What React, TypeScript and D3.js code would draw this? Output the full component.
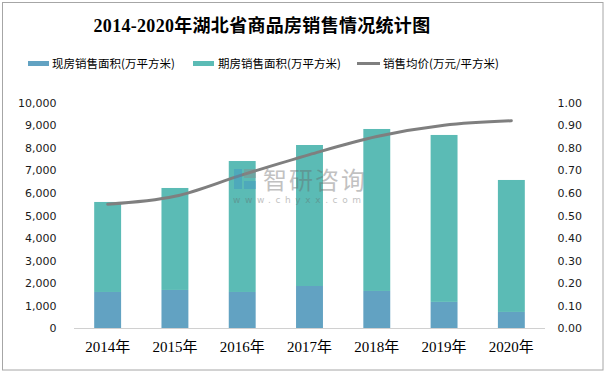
import React from "react";
import * as d3 from "d3";

const categories = ["2014年", "2015年", "2016年", "2017年", "2018年", "2019年", "2020年"];
const existingArea = [1610, 1700, 1610, 1875, 1655, 1170, 725];
const totalArea = [5600, 6220, 7415, 8125, 8835, 8570, 6575];
const futureArea = totalArea.map((t, i) => t - existingArea[i]);
const avgPrice = [0.55, 0.585, 0.68, 0.77, 0.85, 0.9, 0.92];
const leftTicks = [0, 1000, 2000, 3000, 4000, 5000, 6000, 7000, 8000, 9000, 10000];
const rightTicks = [0, 0.1, 0.2, 0.3, 0.4, 0.5, 0.6, 0.7, 0.8, 0.9, 1.0];
const legendLabels = ["现房销售面积(万平方米)", "期房销售面积(万平方米)", "销售均价(万元/平方米)"];
const title = "2014-2020年湖北省商品房销售情况统计图";

const W = 606;
const H = 374;
const C_BLUE = "#62a2c2";
const C_TEAL = "#5bbbb5";
const C_GRAY = "#7f7f7f";

export default function App() {
  const x = d3.scaleBand().domain(categories).range([74, 545]).paddingInner(0.6).paddingOuter(0.3);
  const yL = d3.scaleLinear().domain([0, 10000]).range([328.3, 102.7]);
  const yR = d3.scaleLinear().domain([0, 1]).range([328.3, 102.7]);
  const fmt = d3.format(",");
  const line = d3
    .line<number>()
    .x((_, i) => (x(categories[i]) as number) + x.bandwidth() / 2)
    .y((d) => yR(d))
    .curve(d3.curveMonotoneX);

  return (
    <svg width={W} height={H} style={{ position: "absolute", left: 0, top: 0 }}>
      <rect x={0} y={0} width={W} height={H} fill="#fff" />
      <rect x={2.5} y={2.5} width={600.5} height={367.5} fill="#fff" stroke="#a6a6a6" strokeWidth={1} />
      <text x={262} y={32} textAnchor="middle" fontFamily="'Liberation Serif', 'Noto Sans CJK SC', serif" fontWeight="bold" fontSize={18} fill="#000" letterSpacing={0.3}>
        {title}
      </text>
      {/* Legend */}
      <g fontFamily="'Noto Sans CJK SC', sans-serif" fontSize={11.5} fill="#000">
        <rect x={28} y={61} width={21} height={5} fill={C_BLUE} />
        <text x={52} y={67.5}>{legendLabels[0]}</text>
        <rect x={193} y={61} width={21} height={5} fill={C_TEAL} />
        <text x={218} y={67.5}>{legendLabels[1]}</text>
        <line x1={357} x2={380} y1={63.5} y2={63.5} stroke={C_GRAY} strokeWidth={3} />
        <text x={383} y={67.5}>{legendLabels[2]}</text>
      </g>
      {/* Bars */}
      {categories.map((c, i) => (
        <g key={c}>
          <rect x={x(c)} y={yL(existingArea[i])} width={x.bandwidth()} height={yL(0) - yL(existingArea[i])} fill={C_BLUE} />
          <rect
            x={x(c)}
            y={yL(existingArea[i] + futureArea[i])}
            width={x.bandwidth()}
            height={yL(existingArea[i]) - yL(existingArea[i] + futureArea[i])}
            fill={C_TEAL}
          />
        </g>
      ))}
      <line x1={74} x2={545} y1={328.5} y2={328.5} stroke="#d0d0d0" strokeWidth={1} />
      <path d={line(avgPrice) || ""} fill="none" stroke={C_GRAY} strokeWidth={3} strokeLinecap="round" />
      {/* Watermark */}
      <g opacity={0.4}>
        <rect x={234} y={169} width={8} height={20} fill="#3b8fc4" />
        <rect x={244} y={169} width={12} height={9} fill="#888" />
        <rect x={244} y={181} width={12} height={8} fill="#3b8fc4" />
        <text x={263} y={189} fontFamily="'Noto Sans CJK SC', sans-serif" fontSize={24} fill="#666" letterSpacing={2}>智研咨询</text>
        <text x={233} y={203} fontFamily="'DejaVu Sans', sans-serif" fontSize={9} fill="#666" letterSpacing={4.6}>www.chyxx.com</text>
      </g>
      {/* Axes labels */}
      <g fontFamily="'DejaVu Sans', sans-serif" fontSize={11} fill="#1a1a1a">
        {leftTicks.map((t) => (
          <text key={t} x={56.5} y={yL(t) + 4} textAnchor="end">
            {fmt(t)}
          </text>
        ))}
        {rightTicks.map((t) => (
          <text key={t} x={557.5} y={yR(t) + 4} textAnchor="start">
            {t.toFixed(2)}
          </text>
        ))}
      </g>
      {/* X labels */}
      <g fontFamily="'Liberation Serif', 'Noto Sans CJK SC', serif" fontSize={15} fill="#000">
        {categories.map((c) => (
          <text key={c} x={(x(c) as number) + x.bandwidth() / 2} y={352} textAnchor="middle">
            {c}
          </text>
        ))}
      </g>
    </svg>
  );
}
